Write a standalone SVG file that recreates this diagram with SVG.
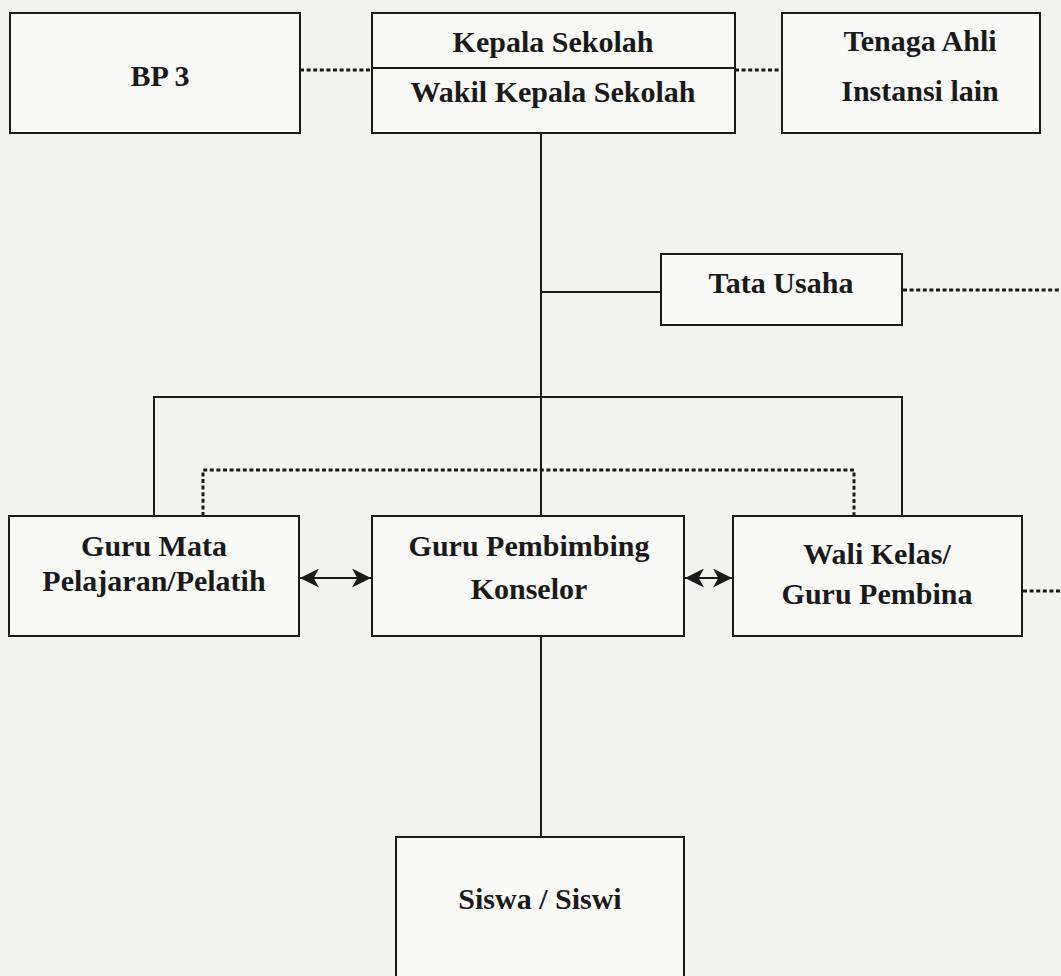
<svg xmlns="http://www.w3.org/2000/svg" width="1061" height="976" viewBox="0 0 1061 976">
<style>
.box{fill:#f9f9f8;stroke:#1a1a1a;stroke-width:2}
.t{font-family:"Liberation Serif","Times New Roman",serif;font-weight:bold;font-size:30px;fill:#1a1a1a;text-anchor:middle}
.ln{fill:none;stroke:#1a1a1a;stroke-width:2}
.dot{fill:none;stroke:#1a1a1a;stroke-width:3;stroke-dasharray:4 2.6}
.arr{fill:none;stroke:#1a1a1a;stroke-width:2;marker-start:url(#ah);marker-end:url(#ah)}
</style>
<defs>
<marker id="ah" viewBox="0 0 18 18" refX="18" refY="9" markerWidth="19" markerHeight="19" markerUnits="userSpaceOnUse" orient="auto-start-reverse">
<path d="M0,0 L18,9 L0,18 L5,9 Z" fill="#1a1a1a"/>
</marker>
</defs>
<rect x="0" y="0" width="1061" height="976" fill="#f2f2f1"/>
<g id="connectors">
<line class="dot" x1="300" y1="70" x2="372" y2="70"/>
<line class="dot" x1="735" y1="70" x2="782" y2="70"/>
<line class="ln" x1="541" y1="133" x2="541" y2="516"/>
<line class="ln" x1="541" y1="292" x2="661" y2="292"/>
<line class="dot" x1="903" y1="290" x2="1061" y2="290"/>
<polyline class="ln" points="154,516 154,397 902,397 902,516"/>
<polyline class="dot" points="203,516 203,470 854,470 854,516"/>
<line class="arr" x1="300" y1="578" x2="371" y2="578"/>
<line class="arr" x1="685" y1="578" x2="732" y2="578"/>
<line class="dot" x1="1023" y1="591" x2="1061" y2="591"/>
<line class="ln" x1="541" y1="636" x2="541" y2="837"/>
</g>
<g id="bp3">
<rect class="box" x="10" y="13" width="290" height="120"/>
<text class="t" x="160" y="86">BP 3</text>
</g>
<g id="kepala">
<rect class="box" x="372" y="13" width="363" height="120"/>
<line class="ln" x1="372" y1="68" x2="735" y2="68"/>
<text class="t" x="553" y="52">Kepala Sekolah</text>
<text class="t" x="553" y="102">Wakil Kepala Sekolah</text>
</g>
<g id="tenaga">
<rect class="box" x="782" y="13" width="258" height="120"/>
<text class="t" x="920" y="51">Tenaga Ahli</text>
<text class="t" x="920" y="101">Instansi lain</text>
</g>
<g id="tata">
<rect class="box" x="661" y="254" width="241" height="71"/>
<text class="t" x="781" y="293">Tata Usaha</text>
</g>
<g id="guru-mata">
<rect class="box" x="9" y="516" width="290" height="120"/>
<text class="t" x="154" y="556">Guru Mata</text>
<text class="t" x="154" y="591">Pelajaran/Pelatih</text>
</g>
<g id="guru-pembimbing">
<rect class="box" x="372" y="516" width="312" height="120"/>
<text class="t" x="529" y="556">Guru Pembimbing</text>
<text class="t" x="529" y="599">Konselor</text>
</g>
<g id="wali">
<rect class="box" x="733" y="516" width="289" height="120"/>
<text class="t" x="877" y="564">Wali Kelas/</text>
<text class="t" x="877" y="604">Guru Pembina</text>
</g>
<g id="siswa">
<rect class="box" x="396" y="837" width="288" height="150"/>
<text class="t" x="540" y="909">Siswa / Siswi</text>
</g>
</svg>
